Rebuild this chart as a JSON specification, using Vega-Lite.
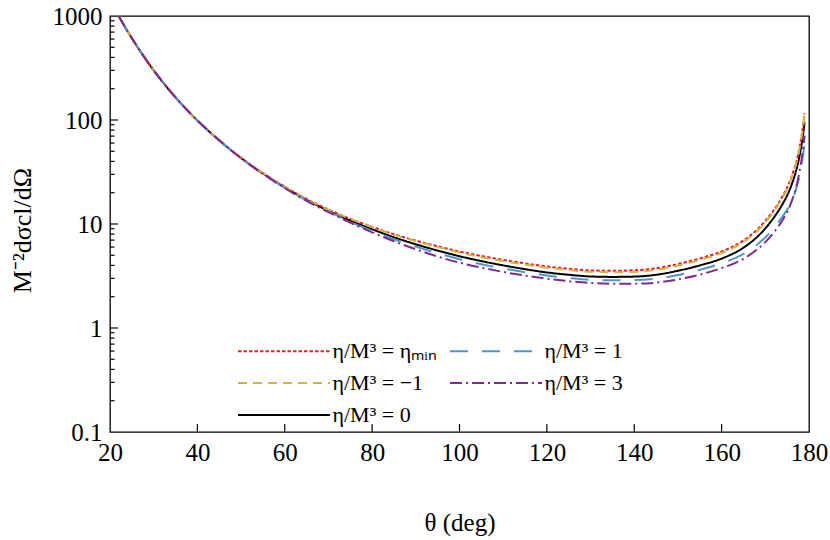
{
  "$schema": "https://vega.github.io/schema/vega-lite/v6.json",
  "width": 699,
  "height": 416,
  "autosize": {"type": "none"},
  "padding": {"left": 110, "top": 16, "right": 21, "bottom": 108},
  "background": "white",
  "config": {
    "font": "Liberation Serif",
    "view": {"stroke": "#000", "strokeWidth": 1.3},
    "axis": {
      "domain": false,
      "grid": false,
      "ticks": false,
      "labelColor": "#000",
      "titleColor": "#000",
      "labelFont": "Liberation Serif",
      "titleFont": "Liberation Serif",
      "titleFontWeight": "normal"
    }
  },
  "datasets": {
    "curves": [
      {"theta": 22, "eta_min": 1000, "eta_m1": 1000, "eta_0": 1000, "eta_1": 1000, "eta_3": 1000},
      {"theta": 24, "eta_min": 715, "eta_m1": 715, "eta_0": 715, "eta_1": 715, "eta_3": 715},
      {"theta": 26, "eta_min": 526, "eta_m1": 526, "eta_0": 526, "eta_1": 526, "eta_3": 526},
      {"theta": 28, "eta_min": 393, "eta_m1": 393, "eta_0": 393, "eta_1": 393, "eta_3": 393},
      {"theta": 30, "eta_min": 300, "eta_m1": 300, "eta_0": 300, "eta_1": 300, "eta_3": 300},
      {"theta": 33, "eta_min": 207, "eta_m1": 207, "eta_0": 207, "eta_1": 207, "eta_3": 207},
      {"theta": 36, "eta_min": 148, "eta_m1": 148, "eta_0": 148, "eta_1": 148, "eta_3": 148},
      {"theta": 40, "eta_min": 99, "eta_m1": 99, "eta_0": 99, "eta_1": 99, "eta_3": 99},
      {"theta": 45, "eta_min": 63.7, "eta_m1": 63.7, "eta_0": 63.7, "eta_1": 63.7, "eta_3": 63.7},
      {"theta": 50, "eta_min": 43.3, "eta_m1": 43.3, "eta_0": 43.1, "eta_1": 43.0, "eta_3": 42.9},
      {"theta": 55, "eta_min": 30.9, "eta_m1": 30.9, "eta_0": 30.6, "eta_1": 30.4, "eta_3": 30.3},
      {"theta": 60, "eta_min": 22.8, "eta_m1": 22.8, "eta_0": 22.5, "eta_1": 22.3, "eta_3": 22.2},
      {"theta": 65, "eta_min": 17.4, "eta_m1": 17.4, "eta_0": 17.1, "eta_1": 16.9, "eta_3": 16.7},
      {"theta": 70, "eta_min": 13.8, "eta_m1": 13.7, "eta_0": 13.4, "eta_1": 13.2, "eta_3": 13.0},
      {"theta": 75, "eta_min": 11.2, "eta_m1": 11.2, "eta_0": 10.8, "eta_1": 10.5, "eta_3": 10.3},
      {"theta": 80, "eta_min": 9.39, "eta_m1": 9.35, "eta_0": 8.9, "eta_1": 8.59, "eta_3": 8.32},
      {"theta": 85, "eta_min": 7.97, "eta_m1": 7.9, "eta_0": 7.45, "eta_1": 7.13, "eta_3": 6.82},
      {"theta": 90, "eta_min": 6.92, "eta_m1": 6.83, "eta_0": 6.38, "eta_1": 6.06, "eta_3": 5.71},
      {"theta": 95, "eta_min": 6.11, "eta_m1": 5.99, "eta_0": 5.55, "eta_1": 5.23, "eta_3": 4.87},
      {"theta": 100, "eta_min": 5.44, "eta_m1": 5.32, "eta_0": 4.9, "eta_1": 4.59, "eta_3": 4.25},
      {"theta": 105, "eta_min": 4.93, "eta_m1": 4.8, "eta_0": 4.4, "eta_1": 4.11, "eta_3": 3.81},
      {"theta": 110, "eta_min": 4.52, "eta_m1": 4.4, "eta_0": 4.0, "eta_1": 3.74, "eta_3": 3.46},
      {"theta": 115, "eta_min": 4.18, "eta_m1": 4.07, "eta_0": 3.68, "eta_1": 3.44, "eta_3": 3.19},
      {"theta": 120, "eta_min": 3.9, "eta_m1": 3.8, "eta_0": 3.42, "eta_1": 3.2, "eta_3": 2.98},
      {"theta": 125, "eta_min": 3.71, "eta_m1": 3.61, "eta_0": 3.25, "eta_1": 3.03, "eta_3": 2.82},
      {"theta": 130, "eta_min": 3.58, "eta_m1": 3.47, "eta_0": 3.13, "eta_1": 2.91, "eta_3": 2.71},
      {"theta": 135, "eta_min": 3.55, "eta_m1": 3.44, "eta_0": 3.1, "eta_1": 2.88, "eta_3": 2.67},
      {"theta": 140, "eta_min": 3.59, "eta_m1": 3.46, "eta_0": 3.12, "eta_1": 2.89, "eta_3": 2.67},
      {"theta": 145, "eta_min": 3.75, "eta_m1": 3.62, "eta_0": 3.25, "eta_1": 2.98, "eta_3": 2.73},
      {"theta": 150, "eta_min": 4.12, "eta_m1": 3.98, "eta_0": 3.55, "eta_1": 3.23, "eta_3": 2.93},
      {"theta": 155, "eta_min": 4.66, "eta_m1": 4.5, "eta_0": 4.0, "eta_1": 3.62, "eta_3": 3.26},
      {"theta": 160, "eta_min": 5.44, "eta_m1": 5.25, "eta_0": 4.65, "eta_1": 4.19, "eta_3": 3.77},
      {"theta": 165, "eta_min": 6.93, "eta_m1": 6.69, "eta_0": 5.92, "eta_1": 5.15, "eta_3": 4.62},
      {"theta": 168, "eta_min": 8.73, "eta_m1": 8.43, "eta_0": 7.43, "eta_1": 6.28, "eta_3": 5.65},
      {"theta": 170, "eta_min": 10.7, "eta_m1": 10.3, "eta_0": 9.06, "eta_1": 7.43, "eta_3": 6.7},
      {"theta": 172, "eta_min": 13.7, "eta_m1": 13.2, "eta_0": 11.6, "eta_1": 9.16, "eta_3": 8.35},
      {"theta": 174, "eta_min": 18.7, "eta_m1": 18.1, "eta_0": 15.7, "eta_1": 11.9, "eta_3": 11.0},
      {"theta": 175, "eta_min": 22.4, "eta_m1": 21.6, "eta_0": 18.8, "eta_1": 13.7, "eta_3": 13.0},
      {"theta": 176, "eta_min": 28.4, "eta_m1": 27.5, "eta_0": 23.7, "eta_1": 16.6, "eta_3": 16.4},
      {"theta": 177, "eta_min": 38.4, "eta_m1": 37.1, "eta_0": 32.0, "eta_1": 21.4, "eta_3": 22.1},
      {"theta": 177.5, "eta_min": 46.4, "eta_m1": 44.9, "eta_0": 38.7, "eta_1": 25.5, "eta_3": 27.1},
      {"theta": 178, "eta_min": 59.7, "eta_m1": 57.7, "eta_0": 49.3, "eta_1": 31.6, "eta_3": 35.0},
      {"theta": 178.5, "eta_min": 79.6, "eta_m1": 77.0, "eta_0": 65.8, "eta_1": 41.8, "eta_3": 47.7},
      {"theta": 179, "eta_min": 116, "eta_m1": 112, "eta_0": 95, "eta_1": 59.9, "eta_3": 70.8}
    ],
    "xticks": [
      {"theta": 40}, {"theta": 60}, {"theta": 80}, {"theta": 100},
      {"theta": 120}, {"theta": 140}, {"theta": 160}
    ],
    "ymajor": [{"v": 1}, {"v": 10}, {"v": 100}],
    "yminor": [
      {"v": 0.2}, {"v": 0.3}, {"v": 0.4}, {"v": 0.5}, {"v": 0.6}, {"v": 0.7}, {"v": 0.8}, {"v": 0.9},
      {"v": 2}, {"v": 3}, {"v": 4}, {"v": 5}, {"v": 6}, {"v": 7}, {"v": 8}, {"v": 9},
      {"v": 20}, {"v": 30}, {"v": 40}, {"v": 50}, {"v": 60}, {"v": 70}, {"v": 80}, {"v": 90},
      {"v": 200}, {"v": 300}, {"v": 400}, {"v": 500}, {"v": 600}, {"v": 700}, {"v": 800}, {"v": 900}
    ]
  },
  "layer": [
    {
      "data": {"name": "curves"},
      "transform": [
        {"fold": ["eta_0", "eta_min", "eta_m1", "eta_1", "eta_3"], "as": ["s", "v"]}
      ],
      "mark": {"type": "line", "strokeWidth": 2, "interpolate": "monotone", "clip": true},
      "encoding": {
        "x": {
          "field": "theta",
          "type": "quantitative",
          "title": "θ (deg)",
          "scale": {"domain": [20, 180], "nice": false, "zero": false},
          "axis": {
            "values": [20, 40, 60, 80, 100, 120, 140, 160, 180],
            "labelFontSize": 25,
            "labelPadding": 8,
            "labelFlush": false,
            "titleFontSize": 25,
            "titleX": 349.5,
            "titleY": 90,
            "titleBaseline": "middle"
          }
        },
        "y": {
          "field": "v",
          "type": "quantitative",
          "title": "M⁻²dσcl/dΩ",
          "scale": {"type": "log", "domain": [0.1, 1000], "nice": false},
          "axis": {
            "values": [0.1, 1, 10, 100, 1000],
            "labelExpr": "datum.value < 1 ? '0.1' : format(datum.value, 'd')",
            "labelFontSize": 25,
            "labelPadding": 8,
            "labelFlush": false,
            "labelOverlap": false,
            "titleFontSize": 26,
            "titleX": -88,
            "titleY": 214,
            "titleBaseline": "middle"
          }
        },
        "color": {
          "field": "s",
          "type": "nominal",
          "scale": {
            "domain": ["eta_min", "eta_m1", "eta_0", "eta_1", "eta_3"],
            "range": ["#e41f26", "#d6b23e", "#000000", "#4e95cf", "#7f2a8e"]
          },
          "legend": {
            "title": null,
            "orient": "none",
            "legendX": 115.5,
            "legendY": 322.5,
            "columns": 2,
            "columnPadding": 0,
            "rowPadding": 8,
            "padding": 0,
            "symbolType": "M0,0H8",
            "symbolSize": 529,
            "symbolStrokeWidth": 2,
            "labelOffset": 82,
            "labelFont": "Liberation Serif",
            "labelFontSize": 22,
            "labelColor": "#000",
            "labelLimit": 300,
            "labelExpr": "datum.label == 'eta_min' ? 'η/M³ = ηₘᵢₙ' : datum.label == 'eta_1' ? 'η/M³ = 1' : datum.label == 'eta_m1' ? 'η/M³ = −1' : datum.label == 'eta_3' ? 'η/M³ = 3' : 'η/M³ = 0'"
          }
        },
        "strokeDash": {
          "field": "s",
          "type": "nominal",
          "scale": {
            "domain": ["eta_min", "eta_m1", "eta_0", "eta_1", "eta_3"],
            "range": [[3.5, 2], [9, 6], [1, 0], [18, 14], [12, 4, 2, 4]]
          }
        }
      }
    },
    {
      "data": {"name": "xticks"},
      "mark": {"type": "rule", "color": "#000", "strokeWidth": 1.2},
      "encoding": {
        "x": {"field": "theta", "type": "quantitative", "title": "θ (deg)"},
        "y": {"datum": 0.1, "type": "quantitative", "title": "M⁻²dσcl/dΩ"},
        "y2": {"datum": 0.1194}
      }
    },
    {
      "data": {"name": "ymajor"},
      "mark": {"type": "rule", "color": "#000", "strokeWidth": 1.2},
      "encoding": {
        "y": {"field": "v", "type": "quantitative", "title": "M⁻²dσcl/dΩ"},
        "x": {"datum": 20, "type": "quantitative", "title": "θ (deg)"},
        "x2": {"datum": 21.83}
      }
    },
    {
      "data": {"name": "yminor"},
      "mark": {"type": "rule", "color": "#000", "strokeWidth": 1.2},
      "encoding": {
        "y": {"field": "v", "type": "quantitative", "title": "M⁻²dσcl/dΩ"},
        "x": {"datum": 20, "type": "quantitative", "title": "θ (deg)"},
        "x2": {"datum": 21.03}
      }
    }
  ]
}
